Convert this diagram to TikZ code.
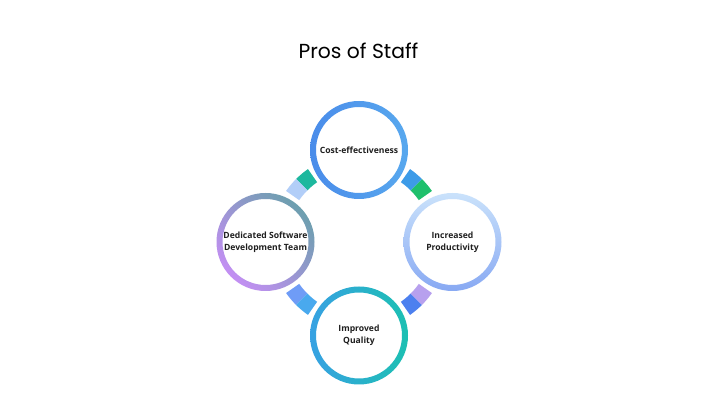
\documentclass[tikz,border=0pt]{standalone}
\usepackage{fontspec}
\setmainfont{Open Sans}
\newfontfamily\titlefont{Poppins}
\usetikzlibrary{positioning,calc}

\definecolor{costA}{HTML}{4A8CEA}
\definecolor{costB}{HTML}{58A8EE}
\definecolor{prodA}{HTML}{CAE2FB}
\definecolor{prodB}{HTML}{88A9F3}
\definecolor{qualA}{HTML}{37A1E3}
\definecolor{qualB}{HTML}{1CC0B2}
\definecolor{teamA}{HTML}{6C9FAE}
\definecolor{teamB}{HTML}{C38FF3}
\definecolor{segteal}{HTML}{1DB89E}
\definecolor{segpale}{HTML}{B2CEF8}
\definecolor{segblue}{HTML}{3D9BE8}
\definecolor{seggreen}{HTML}{1FC06C}
\definecolor{seglav}{HTML}{B7A0EE}
\definecolor{segroyal}{HTML}{4C80EF}
\definecolor{segperi}{HTML}{6F9CF6}
\definecolor{segsky}{HTML}{49A9EE}

\begin{document}
\begin{tikzpicture}[x=1pt,y=1pt,
  every node/.style={font=\bfseries\fontsize{8.6}{11.6}\selectfont,align=center,text=black!88},
  topic/.style={circle,minimum size=86pt,inner sep=0pt},
  ring/.style={even odd rule},
  title/.style={font=\titlefont\fontsize{20.3}{24}\selectfont,anchor=base,text=black},
]
\useasboundingbox[fill=white] (0,0) rectangle (720,411);
\coordinate (hub) at (359,169);

\node[title] (head) at (358.5,352.7) {Pros of Staff};

\node[topic] (cost) at ($(hub)+(90:92)$)    {Cost-effectiveness};
\node[topic] (prod) at ($(hub)+(0:93.5)$)   {Increased\\Productivity};
\node[topic] (qual) at ($(hub)+(270:93.5)$) {Improved\\Quality};
\node[topic] (team) at ($(hub)+(180:93.5)$) {Dedicated Software\\Development Team};

% rings
\shade[ring,left color=costA,right color=costB]
  (cost.center) circle (49) (cost.center) circle (43);
\shade[ring,top color=prodA,bottom color=prodB]
  (prod.center) circle (49) (prod.center) circle (43);
\shade[ring,left color=qualA,right color=qualB]
  (qual.center) circle (49) (qual.center) circle (43);
\shade[ring,top color=teamA,bottom color=teamB,shading angle=-45]
  (team.center) circle (49) (team.center) circle (43);

% links between the rings
\fill[segteal]  (hub) ++(125:73) arc[start angle=125,end angle=135,radius=73]
  -- ($(hub)+(135:89)$) arc[start angle=135,end angle=125,radius=89] -- cycle;
\fill[segpale]  (hub) ++(135:73) arc[start angle=135,end angle=145,radius=73]
  -- ($(hub)+(145:89)$) arc[start angle=145,end angle=135,radius=89] -- cycle;
\fill[seggreen] (hub) ++(35:73) arc[start angle=35,end angle=45,radius=73]
  -- ($(hub)+(45:89)$) arc[start angle=45,end angle=35,radius=89] -- cycle;
\fill[segblue]  (hub) ++(45:73) arc[start angle=45,end angle=55,radius=73]
  -- ($(hub)+(55:89)$) arc[start angle=55,end angle=45,radius=89] -- cycle;
\fill[segroyal] (hub) ++(305:73) arc[start angle=305,end angle=315,radius=73]
  -- ($(hub)+(315:89)$) arc[start angle=315,end angle=305,radius=89] -- cycle;
\fill[seglav]   (hub) ++(315:73) arc[start angle=315,end angle=325,radius=73]
  -- ($(hub)+(325:89)$) arc[start angle=325,end angle=315,radius=89] -- cycle;
\fill[segperi]  (hub) ++(215:73) arc[start angle=215,end angle=225,radius=73]
  -- ($(hub)+(225:89)$) arc[start angle=225,end angle=215,radius=89] -- cycle;
\fill[segsky]   (hub) ++(225:73) arc[start angle=225,end angle=235,radius=73]
  -- ($(hub)+(235:89)$) arc[start angle=235,end angle=225,radius=89] -- cycle;
\end{tikzpicture}
\end{document}
